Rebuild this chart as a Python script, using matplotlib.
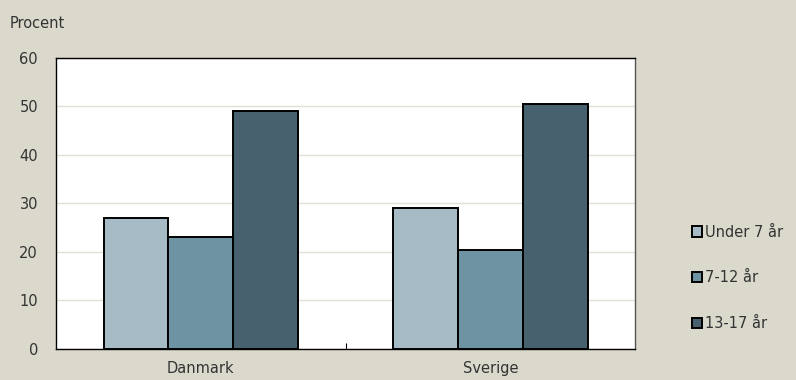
import numpy as np
import matplotlib.pyplot as plt
from matplotlib.ticker import FixedLocator

lande = ['Danmark', 'Sverige']
aldersgrupper = ['Under 7 år', '7-12 år', '13-17 år']
under7 = [27.0, 29.0]
aar7_12 = [23.0, 20.5]
aar13_17 = [49.0, 50.5]
farver = ['#a7bbc6', '#6e93a3', '#47626e']

baggrund = '#dbd8cc'
plt.rcParams['font.family'] = ['DejaVu Sans']

fig = plt.figure(figsize=(7.96, 3.80), dpi=100, facecolor=baggrund)
ax = fig.add_axes([0.0704, 0.0816, 0.7274, 0.7658])
ax.set_facecolor('white')

x = np.arange(len(lande))
bredde = 0.224
serier = [under7, aar7_12, aar13_17]
for i, (vaerdier, farve, navn) in enumerate(zip(serier, farver, aldersgrupper)):
    ax.bar(x + (i - 1) * bredde, vaerdier, bredde, color=farve,
           edgecolor='black', linewidth=1.4, label=navn, zorder=3)

ax.set_xlim(-0.5, 1.5)
ax.set_ylim(0, 60)
ax.set_yticks(range(0, 61, 10))
ax.yaxis.grid(True, color='#e2dfd6', linewidth=1.0, zorder=0)
ax.set_xticks(x)
ax.set_xticklabels(lande)
ax.xaxis.set_minor_locator(FixedLocator([0.5]))
ax.tick_params(axis='x', which='major', length=0, pad=9, labelsize=10.5, colors='#333333')
ax.tick_params(axis='x', which='minor', length=4, direction='in', width=0.8)
ax.tick_params(axis='y', length=0, pad=13, labelsize=10.5, colors='#333333')
for s in ax.spines.values():
    s.set_color('black')
    s.set_linewidth(1.0)
ax.spines['right'].set_color('#555555')

fig.text(0.012, 0.925, 'Procent', fontsize=10.5, color='#333333')

leg = ax.legend(loc='center left', bbox_to_anchor=(1.085, 0.245), frameon=False,
                fontsize=10.5, handlelength=0.7, handleheight=0.7,
                handletextpad=0.25, labelspacing=2.1, borderpad=0)
for t in leg.get_texts():
    t.set_color('#333333')

fig.savefig('out.png', dpi=100, facecolor=baggrund)
